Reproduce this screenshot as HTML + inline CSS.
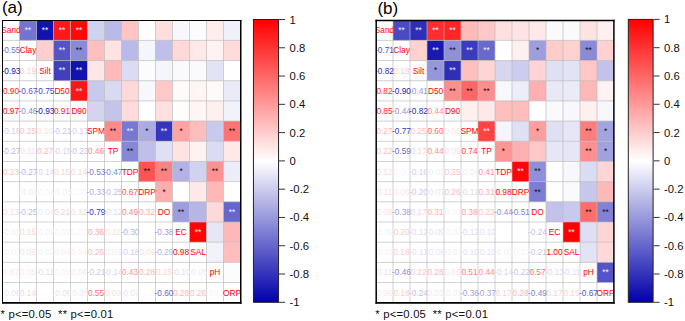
<!DOCTYPE html>
<html><head><meta charset="utf-8"><title>Correlation matrices</title>
<style>
html,body{margin:0;padding:0;background:#fff;}
body{width:685px;height:321px;overflow:hidden;}
svg{display:block;font-family:"Liberation Sans",sans-serif;}
</style></head><body>
<svg width="685" height="321" viewBox="0 0 685 321" font-size="8.3" text-anchor="middle">
<text x="1.9" y="12.7" font-size="17" fill="#000" text-anchor="start">(a)</text>
<clipPath id="ca"><rect x="2.5" y="20.2" width="238.0" height="282.52"/></clipPath>
<g clip-path="url(#ca)">
<rect x="19.50" y="20.20" width="17.0" height="20.18" fill="#7373d0"/>
<rect x="36.50" y="20.20" width="17.0" height="20.18" fill="#1212b0"/>
<rect x="53.50" y="20.20" width="17.0" height="20.18" fill="#ff1919"/>
<rect x="70.50" y="20.20" width="17.0" height="20.18" fill="#ff0808"/>
<rect x="87.50" y="20.20" width="17.0" height="20.18" fill="#d1d1f0"/>
<rect x="104.50" y="20.20" width="17.0" height="20.18" fill="#babae8"/>
<rect x="121.50" y="20.20" width="17.0" height="20.18" fill="#ffc4c4"/>
<rect x="138.50" y="20.20" width="17.0" height="20.18" fill="#ffffff"/>
<rect x="155.50" y="20.20" width="17.0" height="20.18" fill="#ffdede"/>
<rect x="172.50" y="20.20" width="17.0" height="20.18" fill="#f7f7fc"/>
<rect x="189.50" y="20.20" width="17.0" height="20.18" fill="#fcfcfe"/>
<rect x="206.50" y="20.20" width="17.0" height="20.18" fill="#ffeded"/>
<rect x="223.50" y="20.20" width="17.0" height="20.18" fill="#f0f0fa"/>
<rect x="36.50" y="40.38" width="17.0" height="20.18" fill="#ffcfcf"/>
<rect x="53.50" y="40.38" width="17.0" height="20.18" fill="#5454c6"/>
<rect x="70.50" y="40.38" width="17.0" height="20.18" fill="#8a8ad8"/>
<rect x="87.50" y="40.38" width="17.0" height="20.18" fill="#ffbfbf"/>
<rect x="104.50" y="40.38" width="17.0" height="20.18" fill="#ffe3e3"/>
<rect x="121.50" y="40.38" width="17.0" height="20.18" fill="#babae8"/>
<rect x="138.50" y="40.38" width="17.0" height="20.18" fill="#f5f5fc"/>
<rect x="155.50" y="40.38" width="17.0" height="20.18" fill="#bfbfea"/>
<rect x="172.50" y="40.38" width="17.0" height="20.18" fill="#ffd9d9"/>
<rect x="189.50" y="40.38" width="17.0" height="20.18" fill="#ffe8e8"/>
<rect x="206.50" y="40.38" width="17.0" height="20.18" fill="#fff2f2"/>
<rect x="223.50" y="40.38" width="17.0" height="20.18" fill="#ffdbdb"/>
<rect x="53.50" y="60.56" width="17.0" height="20.18" fill="#4040bf"/>
<rect x="70.50" y="60.56" width="17.0" height="20.18" fill="#1212b0"/>
<rect x="87.50" y="60.56" width="17.0" height="20.18" fill="#ffe6e6"/>
<rect x="104.50" y="60.56" width="17.0" height="20.18" fill="#ffbaba"/>
<rect x="121.50" y="60.56" width="17.0" height="20.18" fill="#dbdbf3"/>
<rect x="138.50" y="60.56" width="17.0" height="20.18" fill="#fcfcfe"/>
<rect x="155.50" y="60.56" width="17.0" height="20.18" fill="#f5f5fc"/>
<rect x="172.50" y="60.56" width="17.0" height="20.18" fill="#fafafd"/>
<rect x="189.50" y="60.56" width="17.0" height="20.18" fill="#fafafd"/>
<rect x="206.50" y="60.56" width="17.0" height="20.18" fill="#e3e3f6"/>
<rect x="223.50" y="60.56" width="17.0" height="20.18" fill="#ffffff"/>
<rect x="70.50" y="80.74" width="17.0" height="20.18" fill="#ff1717"/>
<rect x="87.50" y="80.74" width="17.0" height="20.18" fill="#c9c9ed"/>
<rect x="104.50" y="80.74" width="17.0" height="20.18" fill="#d9d9f2"/>
<rect x="121.50" y="80.74" width="17.0" height="20.18" fill="#ffd9d9"/>
<rect x="138.50" y="80.74" width="17.0" height="20.18" fill="#f7f7fc"/>
<rect x="155.50" y="80.74" width="17.0" height="20.18" fill="#ffc9c9"/>
<rect x="172.50" y="80.74" width="17.0" height="20.18" fill="#fffafa"/>
<rect x="189.50" y="80.74" width="17.0" height="20.18" fill="#fff5f5"/>
<rect x="206.50" y="80.74" width="17.0" height="20.18" fill="#fffafa"/>
<rect x="223.50" y="80.74" width="17.0" height="20.18" fill="#ebebf8"/>
<rect x="87.50" y="100.92" width="17.0" height="20.18" fill="#d4d4f1"/>
<rect x="104.50" y="100.92" width="17.0" height="20.18" fill="#c4c4eb"/>
<rect x="121.50" y="100.92" width="17.0" height="20.18" fill="#ffdbdb"/>
<rect x="138.50" y="100.92" width="17.0" height="20.18" fill="#ffffff"/>
<rect x="155.50" y="100.92" width="17.0" height="20.18" fill="#ffe0e0"/>
<rect x="172.50" y="100.92" width="17.0" height="20.18" fill="#fffcfc"/>
<rect x="189.50" y="100.92" width="17.0" height="20.18" fill="#fff5f5"/>
<rect x="206.50" y="100.92" width="17.0" height="20.18" fill="#fff0f0"/>
<rect x="223.50" y="100.92" width="17.0" height="20.18" fill="#f2f2fb"/>
<rect x="104.50" y="121.10" width="17.0" height="20.18" fill="#ff8a8a"/>
<rect x="121.50" y="121.10" width="17.0" height="20.18" fill="#7878d2"/>
<rect x="138.50" y="121.10" width="17.0" height="20.18" fill="#ababe3"/>
<rect x="155.50" y="121.10" width="17.0" height="20.18" fill="#3636bc"/>
<rect x="172.50" y="121.10" width="17.0" height="20.18" fill="#ffa3a3"/>
<rect x="189.50" y="121.10" width="17.0" height="20.18" fill="#ffbdbd"/>
<rect x="206.50" y="121.10" width="17.0" height="20.18" fill="#c9c9ed"/>
<rect x="223.50" y="121.10" width="17.0" height="20.18" fill="#ff7373"/>
<rect x="121.50" y="141.28" width="17.0" height="20.18" fill="#8787d7"/>
<rect x="138.50" y="141.28" width="17.0" height="20.18" fill="#bfbfea"/>
<rect x="155.50" y="141.28" width="17.0" height="20.18" fill="#e0e0f5"/>
<rect x="172.50" y="141.28" width="17.0" height="20.18" fill="#ffe3e3"/>
<rect x="189.50" y="141.28" width="17.0" height="20.18" fill="#fff2f2"/>
<rect x="206.50" y="141.28" width="17.0" height="20.18" fill="#dbdbf3"/>
<rect x="223.50" y="141.28" width="17.0" height="20.18" fill="#ffe8e8"/>
<rect x="138.50" y="161.46" width="17.0" height="20.18" fill="#ff5454"/>
<rect x="155.50" y="161.46" width="17.0" height="20.18" fill="#ff8282"/>
<rect x="172.50" y="161.46" width="17.0" height="20.18" fill="#b2b2e6"/>
<rect x="189.50" y="161.46" width="17.0" height="20.18" fill="#d1d1f0"/>
<rect x="206.50" y="161.46" width="17.0" height="20.18" fill="#ff9191"/>
<rect x="223.50" y="161.46" width="17.0" height="20.18" fill="#ededf9"/>
<rect x="155.50" y="181.64" width="17.0" height="20.18" fill="#ffadad"/>
<rect x="172.50" y="181.64" width="17.0" height="20.18" fill="#ffffff"/>
<rect x="189.50" y="181.64" width="17.0" height="20.18" fill="#ffe8e8"/>
<rect x="206.50" y="181.64" width="17.0" height="20.18" fill="#ffb8b8"/>
<rect x="223.50" y="181.64" width="17.0" height="20.18" fill="#ffffff"/>
<rect x="172.50" y="201.82" width="17.0" height="20.18" fill="#9e9edf"/>
<rect x="189.50" y="201.82" width="17.0" height="20.18" fill="#b5b5e6"/>
<rect x="206.50" y="201.82" width="17.0" height="20.18" fill="#ffd9d9"/>
<rect x="223.50" y="201.82" width="17.0" height="20.18" fill="#6666cc"/>
<rect x="189.50" y="222.00" width="17.0" height="20.18" fill="#ff0505"/>
<rect x="206.50" y="222.00" width="17.0" height="20.18" fill="#e6e6f6"/>
<rect x="223.50" y="222.00" width="17.0" height="20.18" fill="#ffb8b8"/>
<rect x="206.50" y="242.18" width="17.0" height="20.18" fill="#f2f2fb"/>
<rect x="223.50" y="242.18" width="17.0" height="20.18" fill="#ffbdbd"/>
<rect x="223.50" y="262.36" width="17.0" height="20.18" fill="#fcfcfe"/>
<g opacity="0.65"><path d="M19.50 20.2V302.72M2.5 40.38H240.50M36.50 20.2V302.72M2.5 60.56H240.50M53.50 20.2V302.72M2.5 80.74H240.50M70.50 20.2V302.72M2.5 100.92H240.50M87.50 20.2V302.72M2.5 121.10H240.50M104.50 20.2V302.72M2.5 141.28H240.50M121.50 20.2V302.72M2.5 161.46H240.50M138.50 20.2V302.72M2.5 181.64H240.50M155.50 20.2V302.72M2.5 201.82H240.50M172.50 20.2V302.72M2.5 222.00H240.50M189.50 20.2V302.72M2.5 242.18H240.50M206.50 20.2V302.72M2.5 262.36H240.50M223.50 20.2V302.72M2.5 282.54H240.50" fill="none" stroke="#b9b9b9" stroke-width="1"/></g>
<g transform="scale(1,1.07)">
<text x="11.00" y="31.08" fill="#ff0000">Sand</text>
<text x="11.00" y="49.94" fill="#7373d0">-0.55</text>
<text x="28.00" y="49.94" fill="#ff0000">Clay</text>
<text x="11.00" y="68.80" fill="#1212b0">-0.93</text>
<text x="28.00" y="68.80" fill="#fccbcd">0.19</text>
<text x="45.00" y="68.80" fill="#ff0000">Silt</text>
<text x="11.00" y="87.66" fill="#ff1919">0.90</text>
<text x="28.00" y="87.66" fill="#5454c6">-0.67</text>
<text x="45.00" y="87.66" fill="#4040bf">-0.75</text>
<text x="62.00" y="87.66" fill="#ff0000">D50</text>
<text x="11.00" y="106.52" fill="#ff0808">0.97</text>
<text x="28.00" y="106.52" fill="#8a8ad8">-0.46</text>
<text x="45.00" y="106.52" fill="#1212b0">-0.93</text>
<text x="62.00" y="106.52" fill="#ff1717">0.91</text>
<text x="79.00" y="106.52" fill="#ff0000">D90</text>
<text x="11.00" y="125.38" fill="#ceceee">-0.18</text>
<text x="28.00" y="125.38" fill="#febebe">0.25</text>
<text x="45.00" y="125.38" fill="#f9e0e2">0.10</text>
<text x="62.00" y="125.38" fill="#c7c7ec">-0.21</text>
<text x="79.00" y="125.38" fill="#d0d0ee">-0.17</text>
<text x="96.00" y="125.38" fill="#ff0000">SPM</text>
<text x="11.00" y="144.24" fill="#b9b9e8">-0.27</text>
<text x="28.00" y="144.24" fill="#f9dde0">0.11</text>
<text x="45.00" y="144.24" fill="#feb9ba">0.27</text>
<text x="62.00" y="144.24" fill="#d4d4f0">-0.15</text>
<text x="79.00" y="144.24" fill="#c2c2ea">-0.23</text>
<text x="96.00" y="144.24" fill="#ff8a8a">0.46</text>
<text x="113.00" y="144.24" fill="#ff0000">TP</text>
<text x="11.00" y="163.10" fill="#fdc2c3">0.23</text>
<text x="28.00" y="163.10" fill="#b9b9e8">-0.27</text>
<text x="45.00" y="163.10" fill="#d6d6f0">-0.14</text>
<text x="62.00" y="163.10" fill="#fad4d6">0.15</text>
<text x="79.00" y="163.10" fill="#fad6d8">0.14</text>
<text x="96.00" y="163.10" fill="#7878d2">-0.53</text>
<text x="113.00" y="163.10" fill="#8787d7">-0.47</text>
<text x="130.00" y="163.10" fill="#ff0000">TDP</text>
<text x="28.00" y="181.96" fill="#ededf7">-0.04</text>
<text x="45.00" y="181.96" fill="#f4f4f9">-0.01</text>
<text x="62.00" y="181.96" fill="#efeff8">-0.03</text>
<text x="79.00" y="181.96" fill="#f6f6fa">0.00</text>
<text x="96.00" y="181.96" fill="#ababe3">-0.33</text>
<text x="113.00" y="181.96" fill="#bebee9">-0.25</text>
<text x="130.00" y="181.96" fill="#ff5454">0.67</text>
<text x="147.00" y="181.96" fill="#ff0000">DRP</text>
<text x="11.00" y="200.82" fill="#fad9db">0.13</text>
<text x="28.00" y="200.82" fill="#bebee9">-0.25</text>
<text x="45.00" y="200.82" fill="#ededf7">-0.04</text>
<text x="62.00" y="200.82" fill="#fcc7c8">0.21</text>
<text x="79.00" y="200.82" fill="#fadbdd">0.12</text>
<text x="96.00" y="200.82" fill="#3636bc">-0.79</text>
<text x="113.00" y="200.82" fill="#dbdbf2">-0.12</text>
<text x="130.00" y="200.82" fill="#ff8282">0.49</text>
<text x="147.00" y="200.82" fill="#ffadad">0.32</text>
<text x="164.00" y="200.82" fill="#ff0000">DO</text>
<text x="11.00" y="219.68" fill="#efeff8">-0.03</text>
<text x="28.00" y="219.68" fill="#fad4d6">0.15</text>
<text x="45.00" y="219.68" fill="#f2f2f8">-0.02</text>
<text x="62.00" y="219.68" fill="#f7f2f5">0.02</text>
<text x="79.00" y="219.68" fill="#f6f4f7">0.01</text>
<text x="96.00" y="219.68" fill="#ffa3a3">0.36</text>
<text x="113.00" y="219.68" fill="#f9dde0">0.11</text>
<text x="130.00" y="219.68" fill="#b2b2e6">-0.30</text>
<text x="164.00" y="219.68" fill="#9e9edf">-0.38</text>
<text x="181.00" y="219.68" fill="#ff0000">EC</text>
<text x="11.00" y="238.54" fill="#f4f4f9">-0.01</text>
<text x="28.00" y="238.54" fill="#f9e2e4">0.09</text>
<text x="45.00" y="238.54" fill="#f2f2f8">-0.02</text>
<text x="62.00" y="238.54" fill="#f7edf0">0.04</text>
<text x="79.00" y="238.54" fill="#f7edf0">0.04</text>
<text x="96.00" y="238.54" fill="#febcbc">0.26</text>
<text x="113.00" y="238.54" fill="#f8ebee">0.05</text>
<text x="130.00" y="238.54" fill="#ceceee">-0.18</text>
<text x="147.00" y="238.54" fill="#f9e2e4">0.09</text>
<text x="164.00" y="238.54" fill="#b5b5e6">-0.29</text>
<text x="181.00" y="238.54" fill="#ff0505">0.98</text>
<text x="198.00" y="238.54" fill="#ff0000">SAL</text>
<text x="11.00" y="257.40" fill="#f8e6e9">0.07</text>
<text x="28.00" y="257.40" fill="#f8ebee">0.05</text>
<text x="45.00" y="257.40" fill="#ddddf2">-0.11</text>
<text x="62.00" y="257.40" fill="#f7f2f5">0.02</text>
<text x="79.00" y="257.40" fill="#f8e8eb">0.06</text>
<text x="96.00" y="257.40" fill="#c7c7ec">-0.21</text>
<text x="113.00" y="257.40" fill="#d6d6f0">-0.14</text>
<text x="130.00" y="257.40" fill="#ff9191">0.43</text>
<text x="147.00" y="257.40" fill="#feb7b7">0.28</text>
<text x="164.00" y="257.40" fill="#fad4d6">0.15</text>
<text x="181.00" y="257.40" fill="#e0e0f3">-0.10</text>
<text x="198.00" y="257.40" fill="#ebebf6">-0.05</text>
<text x="215.00" y="257.40" fill="#ff0000">pH</text>
<text x="11.00" y="276.26" fill="#e8e8f6">-0.06</text>
<text x="28.00" y="276.26" fill="#fad6d8">0.14</text>
<text x="62.00" y="276.26" fill="#e4e4f4">-0.08</text>
<text x="79.00" y="276.26" fill="#ebebf6">-0.05</text>
<text x="96.00" y="276.26" fill="#ff7373">0.55</text>
<text x="113.00" y="276.26" fill="#f9e2e4">0.09</text>
<text x="130.00" y="276.26" fill="#e6e6f5">-0.07</text>
<text x="164.00" y="276.26" fill="#6666cc">-0.60</text>
<text x="181.00" y="276.26" fill="#feb7b7">0.28</text>
<text x="198.00" y="276.26" fill="#febcbc">0.26</text>
<text x="215.00" y="276.26" fill="#f4f4f9">-0.01</text>
<text x="232.00" y="276.26" fill="#ff0000">ORP</text>
<text x="28.00" y="30.93" fill="#f0f0ff" font-size="8.3">**</text>
<text x="45.00" y="30.93" fill="#f0f0ff" font-size="8.3">**</text>
<text x="62.00" y="30.93" fill="#f0f0ff" font-size="8.3">**</text>
<text x="79.00" y="30.93" fill="#f0f0ff" font-size="8.3">**</text>
<text x="62.00" y="49.79" fill="#f0f0ff" font-size="8.3">**</text>
<text x="79.00" y="49.79" fill="#111" font-size="8.3">**</text>
<text x="62.00" y="68.64" fill="#f0f0ff" font-size="8.3">**</text>
<text x="79.00" y="68.64" fill="#f0f0ff" font-size="8.3">**</text>
<text x="79.00" y="87.50" fill="#f0f0ff" font-size="8.3">**</text>
<text x="113.00" y="125.22" fill="#111" font-size="8.3">**</text>
<text x="130.00" y="125.22" fill="#f0f0ff" font-size="8.3">**</text>
<text x="147.00" y="125.22" fill="#111" font-size="8.3">*</text>
<text x="164.00" y="125.22" fill="#f0f0ff" font-size="8.3">**</text>
<text x="181.00" y="125.22" fill="#111" font-size="8.3">*</text>
<text x="232.00" y="125.22" fill="#111" font-size="8.3">**</text>
<text x="130.00" y="144.08" fill="#111" font-size="8.3">**</text>
<text x="147.00" y="162.94" fill="#111" font-size="8.3">**</text>
<text x="164.00" y="162.94" fill="#111" font-size="8.3">**</text>
<text x="181.00" y="162.94" fill="#111" font-size="8.3">*</text>
<text x="215.00" y="162.94" fill="#111" font-size="8.3">**</text>
<text x="164.00" y="181.80" fill="#111" font-size="8.3">*</text>
<text x="181.00" y="200.66" fill="#111" font-size="8.3">**</text>
<text x="232.00" y="200.66" fill="#f0f0ff" font-size="8.3">**</text>
<text x="198.00" y="219.52" fill="#f0f0ff" font-size="8.3">**</text>
</g>
</g>
<path d="M2.5 20.0V303.70000000000005" stroke="#000" stroke-width="1.0"/>
<path d="M2.0 20.5H241.5" stroke="#000" stroke-width="1.0"/>
<path d="M240.75 20.0V303.70000000000005" stroke="#000" stroke-width="1.5"/>
<path d="M2.0 302.85H241.5" stroke="#000" stroke-width="1.7"/>
<linearGradient id="ga" x1="0" y1="0" x2="0" y2="1"><stop offset="0" stop-color="#ff0000"/><stop offset="0.5" stop-color="#ffffff"/><stop offset="1" stop-color="#0000aa"/></linearGradient>
<rect x="253.45" y="19.5" width="25.1" height="282.8" fill="url(#ga)" stroke="#222" stroke-width="1"/>
<line x1="279.05" y1="19.50" x2="285.05" y2="19.50" stroke="#333" stroke-width="1"/>
<text x="289.6" y="23.50" font-size="11.3" fill="#111" text-anchor="start">1</text>
<line x1="279.05" y1="47.78" x2="285.05" y2="47.78" stroke="#333" stroke-width="1"/>
<text x="289.6" y="51.78" font-size="11.3" fill="#111" text-anchor="start">0.8</text>
<line x1="279.05" y1="76.06" x2="285.05" y2="76.06" stroke="#333" stroke-width="1"/>
<text x="289.6" y="80.06" font-size="11.3" fill="#111" text-anchor="start">0.6</text>
<line x1="279.05" y1="104.34" x2="285.05" y2="104.34" stroke="#333" stroke-width="1"/>
<text x="289.6" y="108.34" font-size="11.3" fill="#111" text-anchor="start">0.4</text>
<line x1="279.05" y1="132.62" x2="285.05" y2="132.62" stroke="#333" stroke-width="1"/>
<text x="289.6" y="136.62" font-size="11.3" fill="#111" text-anchor="start">0.2</text>
<line x1="279.05" y1="160.90" x2="285.05" y2="160.90" stroke="#333" stroke-width="1"/>
<text x="289.6" y="164.90" font-size="11.3" fill="#111" text-anchor="start">0</text>
<line x1="279.05" y1="189.18" x2="285.05" y2="189.18" stroke="#333" stroke-width="1"/>
<text x="289.6" y="193.18" font-size="11.3" fill="#111" text-anchor="start">-0.2</text>
<line x1="279.05" y1="217.46" x2="285.05" y2="217.46" stroke="#333" stroke-width="1"/>
<text x="289.6" y="221.46" font-size="11.3" fill="#111" text-anchor="start">-0.4</text>
<line x1="279.05" y1="245.74" x2="285.05" y2="245.74" stroke="#333" stroke-width="1"/>
<text x="289.6" y="249.74" font-size="11.3" fill="#111" text-anchor="start">-0.6</text>
<line x1="279.05" y1="274.02" x2="285.05" y2="274.02" stroke="#333" stroke-width="1"/>
<text x="289.6" y="278.02" font-size="11.3" fill="#111" text-anchor="start">-0.8</text>
<line x1="279.05" y1="302.30" x2="285.05" y2="302.30" stroke="#333" stroke-width="1"/>
<text x="289.6" y="306.30" font-size="11.3" fill="#111" text-anchor="start">-1</text>
<text x="377.4" y="13.6" font-size="17" fill="#000" text-anchor="start">(b)</text>
<clipPath id="cb"><rect x="376.0" y="20.2" width="238.0" height="282.52"/></clipPath>
<g clip-path="url(#cb)">
<rect x="393.00" y="20.20" width="17.0" height="20.18" fill="#4a4ac3"/>
<rect x="410.00" y="20.20" width="17.0" height="20.18" fill="#2e2eb9"/>
<rect x="427.00" y="20.20" width="17.0" height="20.18" fill="#ff2e2e"/>
<rect x="444.00" y="20.20" width="17.0" height="20.18" fill="#ff2626"/>
<rect x="461.00" y="20.20" width="17.0" height="20.18" fill="#ffbaba"/>
<rect x="478.00" y="20.20" width="17.0" height="20.18" fill="#ffc7c7"/>
<rect x="495.00" y="20.20" width="17.0" height="20.18" fill="#ffe0e0"/>
<rect x="512.00" y="20.20" width="17.0" height="20.18" fill="#ffe3e3"/>
<rect x="529.00" y="20.20" width="17.0" height="20.18" fill="#ffe8e8"/>
<rect x="546.00" y="20.20" width="17.0" height="20.18" fill="#fafafd"/>
<rect x="563.00" y="20.20" width="17.0" height="20.18" fill="#fafafd"/>
<rect x="580.00" y="20.20" width="17.0" height="20.18" fill="#ffe3e3"/>
<rect x="597.00" y="20.20" width="17.0" height="20.18" fill="#fff0f0"/>
<rect x="410.00" y="40.38" width="17.0" height="20.18" fill="#ffd1d1"/>
<rect x="427.00" y="40.38" width="17.0" height="20.18" fill="#1919b2"/>
<rect x="444.00" y="40.38" width="17.0" height="20.18" fill="#8f8fda"/>
<rect x="461.00" y="40.38" width="17.0" height="20.18" fill="#3b3bbe"/>
<rect x="478.00" y="40.38" width="17.0" height="20.18" fill="#6969cd"/>
<rect x="495.00" y="40.38" width="17.0" height="20.18" fill="#ffffff"/>
<rect x="512.00" y="40.38" width="17.0" height="20.18" fill="#fff0f0"/>
<rect x="529.00" y="40.38" width="17.0" height="20.18" fill="#9e9edf"/>
<rect x="546.00" y="40.38" width="17.0" height="20.18" fill="#ffcccc"/>
<rect x="563.00" y="40.38" width="17.0" height="20.18" fill="#ffd1d1"/>
<rect x="580.00" y="40.38" width="17.0" height="20.18" fill="#8a8ad8"/>
<rect x="597.00" y="40.38" width="17.0" height="20.18" fill="#ffd1d1"/>
<rect x="427.00" y="60.56" width="17.0" height="20.18" fill="#9696dc"/>
<rect x="444.00" y="60.56" width="17.0" height="20.18" fill="#2e2eb9"/>
<rect x="461.00" y="60.56" width="17.0" height="20.18" fill="#ffbfbf"/>
<rect x="478.00" y="60.56" width="17.0" height="20.18" fill="#ffd4d4"/>
<rect x="495.00" y="60.56" width="17.0" height="20.18" fill="#d6d6f1"/>
<rect x="512.00" y="60.56" width="17.0" height="20.18" fill="#ccccee"/>
<rect x="529.00" y="60.56" width="17.0" height="20.18" fill="#ffd4d4"/>
<rect x="546.00" y="60.56" width="17.0" height="20.18" fill="#e0e0f5"/>
<rect x="563.00" y="60.56" width="17.0" height="20.18" fill="#e3e3f6"/>
<rect x="580.00" y="60.56" width="17.0" height="20.18" fill="#ffc7c7"/>
<rect x="597.00" y="60.56" width="17.0" height="20.18" fill="#c2c2eb"/>
<rect x="444.00" y="80.74" width="17.0" height="20.18" fill="#ff8f8f"/>
<rect x="461.00" y="80.74" width="17.0" height="20.18" fill="#ff6666"/>
<rect x="478.00" y="80.74" width="17.0" height="20.18" fill="#ff8f8f"/>
<rect x="495.00" y="80.74" width="17.0" height="20.18" fill="#f7f7fc"/>
<rect x="512.00" y="80.74" width="17.0" height="20.18" fill="#ededf9"/>
<rect x="529.00" y="80.74" width="17.0" height="20.18" fill="#ffb0b0"/>
<rect x="546.00" y="80.74" width="17.0" height="20.18" fill="#e8e8f7"/>
<rect x="563.00" y="80.74" width="17.0" height="20.18" fill="#ebebf8"/>
<rect x="580.00" y="80.74" width="17.0" height="20.18" fill="#ffb8b8"/>
<rect x="597.00" y="80.74" width="17.0" height="20.18" fill="#fff2f2"/>
<rect x="461.00" y="100.92" width="17.0" height="20.18" fill="#fff0f0"/>
<rect x="478.00" y="100.92" width="17.0" height="20.18" fill="#ffe8e8"/>
<rect x="495.00" y="100.92" width="17.0" height="20.18" fill="#ffbfbf"/>
<rect x="512.00" y="100.92" width="17.0" height="20.18" fill="#ffbdbd"/>
<rect x="529.00" y="100.92" width="17.0" height="20.18" fill="#ffffff"/>
<rect x="546.00" y="100.92" width="17.0" height="20.18" fill="#fafafd"/>
<rect x="563.00" y="100.92" width="17.0" height="20.18" fill="#f7f7fc"/>
<rect x="580.00" y="100.92" width="17.0" height="20.18" fill="#fff0f0"/>
<rect x="597.00" y="100.92" width="17.0" height="20.18" fill="#f7f7fc"/>
<rect x="478.00" y="121.10" width="17.0" height="20.18" fill="#ff4242"/>
<rect x="495.00" y="121.10" width="17.0" height="20.18" fill="#f5f5fc"/>
<rect x="512.00" y="121.10" width="17.0" height="20.18" fill="#e0e0f5"/>
<rect x="529.00" y="121.10" width="17.0" height="20.18" fill="#ff9e9e"/>
<rect x="546.00" y="121.10" width="17.0" height="20.18" fill="#e0e0f5"/>
<rect x="563.00" y="121.10" width="17.0" height="20.18" fill="#e6e6f6"/>
<rect x="580.00" y="121.10" width="17.0" height="20.18" fill="#ff7d7d"/>
<rect x="597.00" y="121.10" width="17.0" height="20.18" fill="#a3a3e0"/>
<rect x="495.00" y="141.28" width="17.0" height="20.18" fill="#ff9696"/>
<rect x="512.00" y="141.28" width="17.0" height="20.18" fill="#ffb0b0"/>
<rect x="529.00" y="141.28" width="17.0" height="20.18" fill="#ffc7c7"/>
<rect x="546.00" y="141.28" width="17.0" height="20.18" fill="#e6e6f6"/>
<rect x="563.00" y="141.28" width="17.0" height="20.18" fill="#e6e6f6"/>
<rect x="580.00" y="141.28" width="17.0" height="20.18" fill="#ff8f8f"/>
<rect x="597.00" y="141.28" width="17.0" height="20.18" fill="#a1a1e0"/>
<rect x="512.00" y="161.46" width="17.0" height="20.18" fill="#ff0505"/>
<rect x="529.00" y="161.46" width="17.0" height="20.18" fill="#8f8fda"/>
<rect x="546.00" y="161.46" width="17.0" height="20.18" fill="#ffffff"/>
<rect x="563.00" y="161.46" width="17.0" height="20.18" fill="#f7f7fc"/>
<rect x="580.00" y="161.46" width="17.0" height="20.18" fill="#dbdbf3"/>
<rect x="597.00" y="161.46" width="17.0" height="20.18" fill="#ffd4d4"/>
<rect x="529.00" y="181.64" width="17.0" height="20.18" fill="#7d7dd4"/>
<rect x="546.00" y="181.64" width="17.0" height="20.18" fill="#ffffff"/>
<rect x="563.00" y="181.64" width="17.0" height="20.18" fill="#fafafd"/>
<rect x="580.00" y="181.64" width="17.0" height="20.18" fill="#c7c7ec"/>
<rect x="597.00" y="181.64" width="17.0" height="20.18" fill="#ffb8b8"/>
<rect x="546.00" y="201.82" width="17.0" height="20.18" fill="#c2c2eb"/>
<rect x="563.00" y="201.82" width="17.0" height="20.18" fill="#c9c9ed"/>
<rect x="580.00" y="201.82" width="17.0" height="20.18" fill="#ff6e6e"/>
<rect x="597.00" y="201.82" width="17.0" height="20.18" fill="#8282d5"/>
<rect x="563.00" y="222.00" width="17.0" height="20.18" fill="#ff0000"/>
<rect x="580.00" y="222.00" width="17.0" height="20.18" fill="#dedef4"/>
<rect x="597.00" y="222.00" width="17.0" height="20.18" fill="#ffd4d4"/>
<rect x="580.00" y="242.18" width="17.0" height="20.18" fill="#e3e3f6"/>
<rect x="597.00" y="242.18" width="17.0" height="20.18" fill="#ffd9d9"/>
<rect x="597.00" y="262.36" width="17.0" height="20.18" fill="#5454c6"/>
<g opacity="0.65"><path d="M393.00 20.2V302.72M376.0 40.38H614.00M410.00 20.2V302.72M376.0 60.56H614.00M427.00 20.2V302.72M376.0 80.74H614.00M444.00 20.2V302.72M376.0 100.92H614.00M461.00 20.2V302.72M376.0 121.10H614.00M478.00 20.2V302.72M376.0 141.28H614.00M495.00 20.2V302.72M376.0 161.46H614.00M512.00 20.2V302.72M376.0 181.64H614.00M529.00 20.2V302.72M376.0 201.82H614.00M546.00 20.2V302.72M376.0 222.00H614.00M563.00 20.2V302.72M376.0 242.18H614.00M580.00 20.2V302.72M376.0 262.36H614.00M597.00 20.2V302.72M376.0 282.54H614.00" fill="none" stroke="#b9b9b9" stroke-width="1"/></g>
<g transform="scale(1,1.07)">
<text x="384.50" y="31.08" fill="#ff0000">Sand</text>
<text x="384.50" y="49.94" fill="#4a4ac3">-0.71</text>
<text x="401.50" y="49.94" fill="#ff0000">Clay</text>
<text x="384.50" y="68.80" fill="#2e2eb9">-0.82</text>
<text x="401.50" y="68.80" fill="#fbcecf">0.18</text>
<text x="418.50" y="68.80" fill="#ff0000">Silt</text>
<text x="384.50" y="87.66" fill="#ff2e2e">0.82</text>
<text x="401.50" y="87.66" fill="#1919b2">-0.90</text>
<text x="418.50" y="87.66" fill="#9696dc">-0.41</text>
<text x="435.50" y="87.66" fill="#ff0000">D50</text>
<text x="384.50" y="106.52" fill="#ff2626">0.85</text>
<text x="401.50" y="106.52" fill="#8f8fda">-0.44</text>
<text x="418.50" y="106.52" fill="#2e2eb9">-0.82</text>
<text x="435.50" y="106.52" fill="#ff8f8f">0.44</text>
<text x="452.50" y="106.52" fill="#ff0000">D90</text>
<text x="384.50" y="125.38" fill="#feb9ba">0.27</text>
<text x="401.50" y="125.38" fill="#3b3bbe">-0.77</text>
<text x="418.50" y="125.38" fill="#febebe">0.25</text>
<text x="435.50" y="125.38" fill="#ff6666">0.60</text>
<text x="452.50" y="125.38" fill="#f8e8eb">0.06</text>
<text x="469.50" y="125.38" fill="#ff0000">SPM</text>
<text x="384.50" y="144.24" fill="#fdc4c5">0.22</text>
<text x="401.50" y="144.24" fill="#6969cd">-0.59</text>
<text x="418.50" y="144.24" fill="#fbd0d1">0.17</text>
<text x="435.50" y="144.24" fill="#ff8f8f">0.44</text>
<text x="452.50" y="144.24" fill="#f9e2e4">0.09</text>
<text x="469.50" y="144.24" fill="#ff4242">0.74</text>
<text x="486.50" y="144.24" fill="#ff0000">TP</text>
<text x="384.50" y="163.10" fill="#fadbdd">0.12</text>
<text x="401.50" y="163.10" fill="#f6f6fa">0.00</text>
<text x="418.50" y="163.10" fill="#d2d2ef">-0.16</text>
<text x="435.50" y="163.10" fill="#efeff8">-0.03</text>
<text x="452.50" y="163.10" fill="#febebe">0.25</text>
<text x="469.50" y="163.10" fill="#ededf7">-0.04</text>
<text x="486.50" y="163.10" fill="#ff9696">0.41</text>
<text x="503.50" y="163.10" fill="#ff0000">TDP</text>
<text x="384.50" y="181.96" fill="#f9dde0">0.11</text>
<text x="401.50" y="181.96" fill="#f8e8eb">0.06</text>
<text x="418.50" y="181.96" fill="#c9c9ec">-0.20</text>
<text x="435.50" y="181.96" fill="#e6e6f5">-0.07</text>
<text x="452.50" y="181.96" fill="#febcbc">0.26</text>
<text x="469.50" y="181.96" fill="#dbdbf2">-0.12</text>
<text x="486.50" y="181.96" fill="#ffb0b0">0.31</text>
<text x="503.50" y="181.96" fill="#ff0505">0.98</text>
<text x="520.50" y="181.96" fill="#ff0000">DRP</text>
<text x="384.50" y="200.82" fill="#f9e2e4">0.09</text>
<text x="401.50" y="200.82" fill="#9e9edf">-0.38</text>
<text x="418.50" y="200.82" fill="#fbd0d1">0.17</text>
<text x="435.50" y="200.82" fill="#ffb0b0">0.31</text>
<text x="452.50" y="200.82" fill="#f6f6fa">0.00</text>
<text x="469.50" y="200.82" fill="#ff9e9e">0.38</text>
<text x="486.50" y="200.82" fill="#fdc4c5">0.22</text>
<text x="503.50" y="200.82" fill="#8f8fda">-0.44</text>
<text x="520.50" y="200.82" fill="#7d7dd4">-0.51</text>
<text x="537.50" y="200.82" fill="#ff0000">DO</text>
<text x="384.50" y="219.68" fill="#f2f2f8">-0.02</text>
<text x="401.50" y="219.68" fill="#fcc9ca">0.20</text>
<text x="418.50" y="219.68" fill="#dbdbf2">-0.12</text>
<text x="435.50" y="219.68" fill="#e2e2f4">-0.09</text>
<text x="452.50" y="219.68" fill="#f2f2f8">-0.02</text>
<text x="469.50" y="219.68" fill="#dbdbf2">-0.12</text>
<text x="486.50" y="219.68" fill="#e0e0f3">-0.10</text>
<text x="537.50" y="219.68" fill="#c0c0ea">-0.24</text>
<text x="554.50" y="219.68" fill="#ff0000">EC</text>
<text x="384.50" y="238.54" fill="#f2f2f8">-0.02</text>
<text x="401.50" y="238.54" fill="#fbcecf">0.18</text>
<text x="418.50" y="238.54" fill="#ddddf2">-0.11</text>
<text x="435.50" y="238.54" fill="#e4e4f4">-0.08</text>
<text x="452.50" y="238.54" fill="#efeff8">-0.03</text>
<text x="469.50" y="238.54" fill="#e0e0f3">-0.10</text>
<text x="486.50" y="238.54" fill="#e0e0f3">-0.10</text>
<text x="503.50" y="238.54" fill="#efeff8">-0.03</text>
<text x="520.50" y="238.54" fill="#f2f2f8">-0.02</text>
<text x="537.50" y="238.54" fill="#c7c7ec">-0.21</text>
<text x="554.50" y="238.54" fill="#ff0000">1.00</text>
<text x="571.50" y="238.54" fill="#ff0000">SAL</text>
<text x="384.50" y="257.40" fill="#f9dde0">0.11</text>
<text x="401.50" y="257.40" fill="#8a8ad8">-0.46</text>
<text x="418.50" y="257.40" fill="#fdc4c5">0.22</text>
<text x="435.50" y="257.40" fill="#feb7b7">0.28</text>
<text x="452.50" y="257.40" fill="#f8e8eb">0.06</text>
<text x="469.50" y="257.40" fill="#ff7d7d">0.51</text>
<text x="486.50" y="257.40" fill="#ff8f8f">0.44</text>
<text x="503.50" y="257.40" fill="#d6d6f0">-0.14</text>
<text x="520.50" y="257.40" fill="#c4c4eb">-0.22</text>
<text x="537.50" y="257.40" fill="#ff6e6e">0.57</text>
<text x="554.50" y="257.40" fill="#d9d9f1">-0.13</text>
<text x="571.50" y="257.40" fill="#ddddf2">-0.11</text>
<text x="588.50" y="257.40" fill="#ff0000">pH</text>
<text x="384.50" y="276.26" fill="#f8e8eb">0.06</text>
<text x="401.50" y="276.26" fill="#fbcecf">0.18</text>
<text x="418.50" y="276.26" fill="#c0c0ea">-0.24</text>
<text x="435.50" y="276.26" fill="#f8ebee">0.05</text>
<text x="452.50" y="276.26" fill="#efeff8">-0.03</text>
<text x="469.50" y="276.26" fill="#a3a3e0">-0.36</text>
<text x="486.50" y="276.26" fill="#a1a1e0">-0.37</text>
<text x="503.50" y="276.26" fill="#fbd0d1">0.17</text>
<text x="520.50" y="276.26" fill="#feb7b7">0.28</text>
<text x="537.50" y="276.26" fill="#8282d5">-0.49</text>
<text x="554.50" y="276.26" fill="#fbd0d1">0.17</text>
<text x="571.50" y="276.26" fill="#fad4d6">0.15</text>
<text x="588.50" y="276.26" fill="#5454c6">-0.67</text>
<text x="605.50" y="276.26" fill="#ff0000">ORP</text>
<text x="401.50" y="30.93" fill="#f0f0ff" font-size="8.3">**</text>
<text x="418.50" y="30.93" fill="#f0f0ff" font-size="8.3">**</text>
<text x="435.50" y="30.93" fill="#f0f0ff" font-size="8.3">**</text>
<text x="452.50" y="30.93" fill="#f0f0ff" font-size="8.3">**</text>
<text x="435.50" y="49.79" fill="#f0f0ff" font-size="8.3">**</text>
<text x="452.50" y="49.79" fill="#111" font-size="8.3">**</text>
<text x="469.50" y="49.79" fill="#f0f0ff" font-size="8.3">**</text>
<text x="486.50" y="49.79" fill="#f0f0ff" font-size="8.3">**</text>
<text x="537.50" y="49.79" fill="#111" font-size="8.3">*</text>
<text x="588.50" y="49.79" fill="#111" font-size="8.3">**</text>
<text x="435.50" y="68.64" fill="#111" font-size="8.3">*</text>
<text x="452.50" y="68.64" fill="#f0f0ff" font-size="8.3">**</text>
<text x="452.50" y="87.50" fill="#111" font-size="8.3">**</text>
<text x="469.50" y="87.50" fill="#111" font-size="8.3">**</text>
<text x="486.50" y="87.50" fill="#111" font-size="8.3">**</text>
<text x="486.50" y="125.22" fill="#f0f0ff" font-size="8.3">**</text>
<text x="537.50" y="125.22" fill="#111" font-size="8.3">*</text>
<text x="588.50" y="125.22" fill="#111" font-size="8.3">**</text>
<text x="605.50" y="125.22" fill="#111" font-size="8.3">*</text>
<text x="503.50" y="144.08" fill="#111" font-size="8.3">*</text>
<text x="588.50" y="144.08" fill="#111" font-size="8.3">**</text>
<text x="605.50" y="144.08" fill="#111" font-size="8.3">*</text>
<text x="520.50" y="162.94" fill="#f0f0ff" font-size="8.3">**</text>
<text x="537.50" y="162.94" fill="#111" font-size="8.3">**</text>
<text x="537.50" y="181.80" fill="#111" font-size="8.3">**</text>
<text x="588.50" y="200.66" fill="#111" font-size="8.3">**</text>
<text x="605.50" y="200.66" fill="#111" font-size="8.3">**</text>
<text x="571.50" y="219.52" fill="#f0f0ff" font-size="8.3">**</text>
<text x="605.50" y="257.24" fill="#f0f0ff" font-size="8.3">**</text>
</g>
</g>
<path d="M376.2 19.75V303.7" stroke="#000" stroke-width="1.5"/>
<path d="M375.45 20.5H614.65" stroke="#000" stroke-width="1.5"/>
<path d="M613.9 19.75V303.7" stroke="#000" stroke-width="1.5"/>
<path d="M375.45 302.9H614.65" stroke="#000" stroke-width="1.6"/>
<linearGradient id="gb" x1="0" y1="0" x2="0" y2="1"><stop offset="0" stop-color="#ff0000"/><stop offset="0.5" stop-color="#ffffff"/><stop offset="1" stop-color="#0000aa"/></linearGradient>
<rect x="628.3" y="19.4" width="24.8" height="282.90000000000003" fill="url(#gb)" stroke="#222" stroke-width="1"/>
<line x1="653.5999999999999" y1="19.40" x2="659.5999999999999" y2="19.40" stroke="#333" stroke-width="1"/>
<text x="664.0" y="23.40" font-size="11.3" fill="#111" text-anchor="start">1</text>
<line x1="653.5999999999999" y1="47.69" x2="659.5999999999999" y2="47.69" stroke="#333" stroke-width="1"/>
<text x="664.0" y="51.69" font-size="11.3" fill="#111" text-anchor="start">0.8</text>
<line x1="653.5999999999999" y1="75.98" x2="659.5999999999999" y2="75.98" stroke="#333" stroke-width="1"/>
<text x="664.0" y="79.98" font-size="11.3" fill="#111" text-anchor="start">0.6</text>
<line x1="653.5999999999999" y1="104.27" x2="659.5999999999999" y2="104.27" stroke="#333" stroke-width="1"/>
<text x="664.0" y="108.27" font-size="11.3" fill="#111" text-anchor="start">0.4</text>
<line x1="653.5999999999999" y1="132.56" x2="659.5999999999999" y2="132.56" stroke="#333" stroke-width="1"/>
<text x="664.0" y="136.56" font-size="11.3" fill="#111" text-anchor="start">0.2</text>
<line x1="653.5999999999999" y1="160.85" x2="659.5999999999999" y2="160.85" stroke="#333" stroke-width="1"/>
<text x="664.0" y="164.85" font-size="11.3" fill="#111" text-anchor="start">0</text>
<line x1="653.5999999999999" y1="189.14" x2="659.5999999999999" y2="189.14" stroke="#333" stroke-width="1"/>
<text x="664.0" y="193.14" font-size="11.3" fill="#111" text-anchor="start">-0.2</text>
<line x1="653.5999999999999" y1="217.43" x2="659.5999999999999" y2="217.43" stroke="#333" stroke-width="1"/>
<text x="664.0" y="221.43" font-size="11.3" fill="#111" text-anchor="start">-0.4</text>
<line x1="653.5999999999999" y1="245.72" x2="659.5999999999999" y2="245.72" stroke="#333" stroke-width="1"/>
<text x="664.0" y="249.72" font-size="11.3" fill="#111" text-anchor="start">-0.6</text>
<line x1="653.5999999999999" y1="274.01" x2="659.5999999999999" y2="274.01" stroke="#333" stroke-width="1"/>
<text x="664.0" y="278.01" font-size="11.3" fill="#111" text-anchor="start">-0.8</text>
<line x1="653.5999999999999" y1="302.30" x2="659.5999999999999" y2="302.30" stroke="#333" stroke-width="1"/>
<text x="664.0" y="306.30" font-size="11.3" fill="#111" text-anchor="start">-1</text>
<text x="0.6" y="317.6" font-size="11.3" letter-spacing="0.2" fill="#111" text-anchor="start" xml:space="preserve">* p&lt;=0.05  ** p&lt;=0.01</text>
<text x="375.3" y="317.6" font-size="11.3" letter-spacing="0.2" fill="#111" text-anchor="start" xml:space="preserve">* p&lt;=0.05  ** p&lt;=0.01</text>
</svg>
</body></html>
